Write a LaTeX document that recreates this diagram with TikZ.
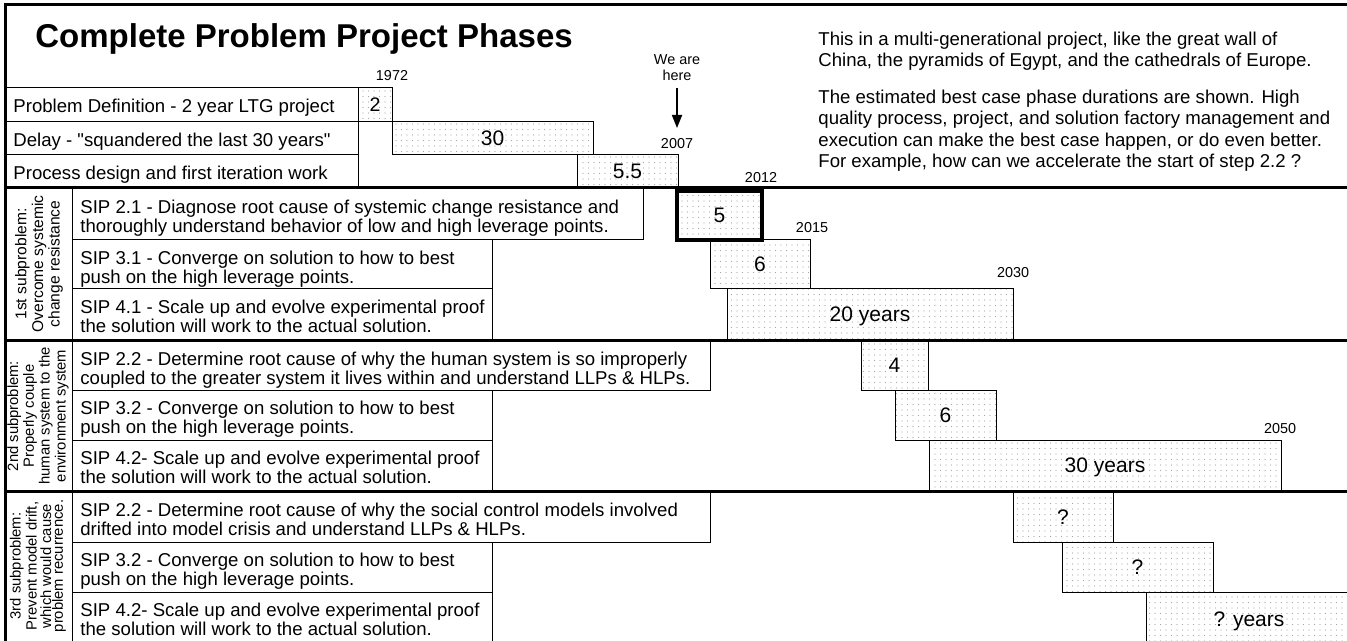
\documentclass[tikz,border=0pt]{standalone}
\usepackage{fontspec}
\setmainfont{Liberation Sans}
\usetikzlibrary{arrows.meta,patterns.meta}

\tikzdeclarepattern{
  name=fine dots,
  type=uncolored,
  bottom left={(-0.5pt,-0.5pt)},
  top right={(2.25pt,2.25pt)},
  tile size={(2.75pt,2.75pt)},
  code={\fill (0pt,0pt) circle [radius=0.35pt];}
}

\begin{document}
\begin{tikzpicture}[x=0.5pt, y=-0.5pt,
  thin/.style={line width=0.5pt},
  bar/.style={draw, line width=0.5pt, pattern=fine dots, pattern color=gray!70},
  lbl/.style={anchor=north west, align=left, inner sep=0pt, font=\fontsize{9.3}{9.2}\selectfont},
  num/.style={inner sep=0pt, text depth=0pt, font=\fontsize{10.5}{12}\selectfont},
  yr/.style={inner sep=0pt, font=\fontsize{7.2}{8}\selectfont},
  side/.style={rotate=90, align=center, inner sep=0pt},
  sep/.style={line width=1.5pt}]
\useasboundingbox (0, 0) rectangle (1347, 641);

\node [anchor=base west, inner sep=0pt, font=\fontsize{16.5}{20}\selectfont\bfseries] (title) at (35, 48) {Complete Problem Project Phases};
\node [lbl, font=\fontsize{9.3}{10.7}\selectfont] (note) at (818, 31.5) {This in a multi-generational project, like the great wall of\\China, the pyramids of Egypt, and the cathedrals of Europe.\\[7.6pt]The estimated best case phase durations are shown. High\\quality process, project, and solution factory management and\\execution can make the best case happen, or do even better.\\For example, how can we accelerate the start of step 2.2 ?};

\node [yr, align=center, font=\fontsize{7.2}{8}\selectfont] (here) at (677, 68) {We are\\here};
\coordinate (now) at (677, 128);
\draw [-{Triangle[length=6.5pt, width=5pt]}, line width=0.9pt] ([yshift=-3.5pt]here.south) -- (now);

\node [yr] (y1972) at (392, 76) {1972};
\node [yr] (y2007) at (677, 144) {2007};
\node [yr] (y2012) at (761, 178) {2012};
\node [yr] (y2015) at (812, 228) {2015};
\node [yr] (y2030) at (1013, 273) {2030};
\node [yr] (y2050) at (1280, 429) {2050};

% start of the work
\draw [thin] (6, 88) rectangle (358, 122);
\draw [thin] (6, 122) rectangle (358, 155);
\draw [thin] (6, 155) rectangle (358, 188);
\node [lbl] (pdef) at (13, 98.5) {Problem Definition - 2 year LTG project};
\node [lbl] (delay) at (13, 132.5) {Delay - \textquotedbl squandered the last 30 years\textquotedbl};
\node [lbl] (procd) at (13, 165.5) {Process design and first iteration work};
\draw [bar] (358, 88) rectangle node [num, font=\fontsize{9.8}{11}\selectfont] (n2) {2} (392, 122);
\draw [bar] (392, 122) rectangle node [num] (n30) {30} (593, 155);
\draw [bar] (577, 155) rectangle node [num] (n55) {5.5} (678, 188);

% 1st subproblem
\draw [thin] (72, 188) rectangle (643, 240);
\draw [thin] (72, 240) rectangle (492, 289);
\draw [thin] (72, 289) rectangle (492, 340);
\node [side, font=\fontsize{7.8}{6.8}\selectfont] (sub1) at (39, 264) {1st subproblem:\\Overcome systemic\\change resistance};
\node [lbl] (sip21a) at (80, 200) {SIP 2.1 - Diagnose root cause of systemic change resistance and\\thoroughly understand behavior of low and high leverage points.};
\node [lbl] (sip31a) at (80, 251) {SIP 3.1 - Converge on solution to how to best\\push on the high leverage points.};
\node [lbl] (sip41a) at (80, 300) {SIP 4.1 - Scale up and evolve experimental proof\\the solution will work to the actual solution.};
\draw [bar] (710, 240) rectangle node [num] (n6a) {6} (810, 289);
\draw [bar] (727, 289) rectangle node [num] (n20) {20 years} (1013, 340);

% 2nd subproblem
\draw [thin] (72, 341) rectangle (710, 390);
\draw [thin] (72, 390) rectangle (492, 440);
\draw [thin] (72, 440) rectangle (492, 491);
\node [side, font=\fontsize{7.4}{5.9}\selectfont] (sub2) at (38, 416) {2nd subproblem:\\Properly couple\\human system to the\\environment system};
\node [lbl] (sip22b) at (80, 352) {SIP 2.2 - Determine root cause of why the human system is so improperly\\coupled to the greater system it lives within and understand LLPs \& HLPs.};
\node [lbl] (sip32b) at (80, 401) {SIP 3.2 - Converge on solution to how to best\\push on the high leverage points.};
\node [lbl] (sip42b) at (80, 451) {SIP 4.2- Scale up and evolve experimental proof\\the solution will work to the actual solution.};
\draw [bar] (861, 341) rectangle node [num] (n4) {4} (928, 390);
\draw [bar] (895, 390) rectangle node [num] (n6b) {6} (996, 440);
\draw [bar] (929, 440) rectangle node [num] (n30y) {30 years} (1281, 491);

% 3rd subproblem
\draw [thin] (72, 492) rectangle (710, 542);
\draw [thin] (72, 542) rectangle (492, 592);
\draw [thin] (72, 592) rectangle (492, 646);
\node [side, font=\fontsize{7.4}{5.9}\selectfont] (sub3) at (38, 566) {3rd subproblem:\\Prevent model drift,\\which would cause\\problem recurrence.};
\node [lbl] (sip22c) at (80, 503) {SIP 2.2 - Determine root cause of why the social control models involved\\drifted into model crisis and understand LLPs \& HLPs.};
\node [lbl] (sip32c) at (80, 553) {SIP 3.2 - Converge on solution to how to best\\push on the high leverage points.};
\node [lbl] (sip42c) at (80, 603) {SIP 4.2- Scale up and evolve experimental proof\\the solution will work to the actual solution.};
\draw [bar] (1013, 492) rectangle node [num] (nq1) {?} (1113, 542);
\draw [bar] (1062, 542) rectangle node [num] (nq2) {?} (1213, 592);
\draw [bar] (1146, 592) rectangle node [num] (nqy) {? years} (1352, 646);

% frame and section rules
\draw [thin] (72, 188) -- (72, 641);
\draw [line width=1.2pt] (5.5, 641) -- (5.5, 4.5) -- (1347, 4.5);
\draw [sep] (5, 188) -- (1347, 188);
\draw [sep] (5, 340.5) -- (1347, 340.5);
\draw [sep] (5, 491.5) -- (1347, 491.5);
\draw [bar, line width=2pt] (677, 191) rectangle node [num] (n5) {5} (762, 240);
\end{tikzpicture}
\end{document}
